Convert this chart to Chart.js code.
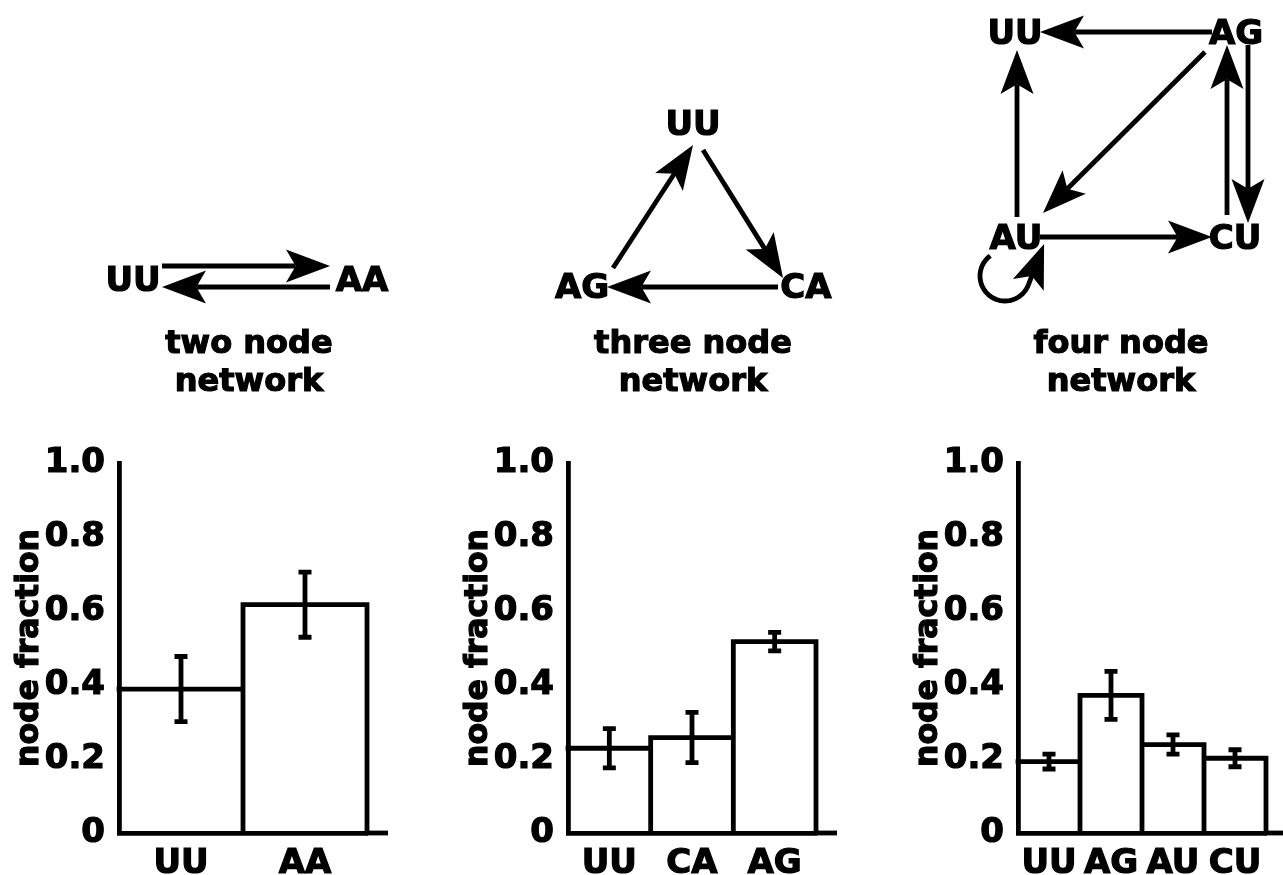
<!DOCTYPE html>
<html>
<head>
<meta charset="utf-8">
<script src="https://cdn.jsdelivr.net/npm/chart.js@4/dist/chart.umd.min.js"></script>
<style>
  html, body { margin: 0; padding: 0; background: #fff; overflow: hidden; width: 1283px; height: 875px; }
  #stage { position: absolute; left: 0; top: 0; width: 1283px; height: 875px; overflow: hidden; }
  #stage canvas { position: absolute; }
</style>
</head>
<body>
<div id="stage">
  <canvas id="networks"></canvas>
  <canvas id="twoNodeChart"></canvas>
  <canvas id="threeNodeChart"></canvas>
  <canvas id="fourNodeChart"></canvas>
</div>
<script>
// Data
const twoNodeCategories = ['UU', 'AA'];
const twoNodeValues = [0.389, 0.617];
const twoNodeErrors = [0.088, 0.088];

const threeNodeCategories = ['UU', 'CA', 'AG'];
const threeNodeValues = [0.229, 0.258, 0.517];
const threeNodeErrors = [0.053, 0.068, 0.025];

const fourNodeCategories = ['UU', 'AG', 'AU', 'CU'];
const fourNodeValues = [0.193, 0.372, 0.239, 0.202];
const fourNodeErrors = [0.020, 0.065, 0.026, 0.023];

const yTickLabels = ['0', '0.2', '0.4', '0.6', '0.8', '1.0'];
const yAxisTitle = 'node fraction';

// network topology (from -> to)
const twoNodeEdges = [['UU', 'AA'], ['AA', 'UU']];
const threeNodeEdges = [['AG', 'UU'], ['UU', 'CA'], ['CA', 'AG']];
const fourNodeEdges = [['AG', 'UU'], ['AU', 'UU'], ['AG', 'AU'], ['AU', 'CU'], ['CU', 'AG'], ['AG', 'CU'], ['AU', 'AU']];

const panelTitles = [['two node', 'network'], ['three node', 'network'], ['four node', 'network']];

// Layout and style
const STAGE_W = 1283;
const INK = '#000';
const LINE = 4.8;
const HEAD_LEN = 44;
const HEAD_W = 16.5;
const NOTCH = 0.78;
const TEXT_STROKE = 1.2;
const FONT = '"DejaVu Sans", Verdana, sans-serif';

Chart.defaults.font.family = FONT;
Chart.defaults.font.weight = 'bold';
Chart.defaults.color = INK;

// node placement of the three diagrams, in figure pixels
const networkLayouts = [
  {
    names: twoNodeCategories, edges: twoNodeEdges, titleX: 249,
    pos: { UU: [133, 279], AA: [362, 279] },
    anchors: {
      'UU>AA': [[29, -13], [-32, -13]],
      'AA>UU': [[-32, 8], [29, 8]]
    }
  },
  {
    names: threeNodeCategories, edges: threeNodeEdges, titleX: 693,
    pos: { UU: [693, 123], CA: [806, 286], AG: [582, 286] },
    anchors: {
      'AG>UU': [[31, -18], [0, 22]],
      'UU>CA': [[10, 27], [-23, -8]],
      'CA>AG': [[-28, 1], [25, 1]]
    }
  },
  {
    names: fourNodeCategories, edges: fourNodeEdges, titleX: 1121,
    pos: { UU: [1015, 32], AG: [1236, 32], AU: [1016, 237], CU: [1235, 237] },
    anchors: {
      'AG>UU': [[-24, 0], [25, 0]],
      'AU>UU': [[1, -20], [2, 18]],
      'AG>AU': [[-31, 20], [27, -24]],
      'AU>CU': [[24, 0], [-23, 0]],
      'CU>AG': [[-8, -22], [-9, 13]],
      'AG>CU': [[12, 13], [13, -14]],
      'AU>AU': { center: [-11, 39], r: 25, from: 234, to: 21 }
    }
  }
];

// heavy text: fill plus a thin outline
function boldText(ctx, text, x, y) {
    ctx.strokeText(text, x, y);
    ctx.fillText(text, x, y);
}

// Draw an arrow along a polyline; last point is the tip
function drawArrow(ctx, pt, pts) {
    const n = pts.length;
    const [tx, ty] = pts[n - 1];
    const [ax, ay] = pts[n - 2];
    const d = Math.hypot(tx - ax, ty - ay);
    const ux = (tx - ax) / d, uy = (ty - ay) / d;
    const nx = -uy, ny = ux;
    const bx = tx - ux * HEAD_LEN, by = ty - uy * HEAD_LEN;
    const notch = [tx - ux * HEAD_LEN * NOTCH, ty - uy * HEAD_LEN * NOTCH];

    ctx.lineWidth = LINE;
    ctx.beginPath();
    pts.slice(0, -1).forEach((p, i) => {
        const [X, Y] = pt(p);
        if (i === 0) ctx.moveTo(X, Y); else ctx.lineTo(X, Y);
    });
    ctx.lineTo(...pt(notch));
    ctx.stroke();

    ctx.beginPath();
    ctx.moveTo(...pt([tx, ty]));
    ctx.lineTo(...pt([bx + nx * HEAD_W, by + ny * HEAD_W]));
    ctx.lineTo(...pt(notch));
    ctx.lineTo(...pt([bx - nx * HEAD_W, by - ny * HEAD_W]));
    ctx.closePath();
    ctx.fill();
}

const networkDrawing = {
    id: 'networkDrawing',
    afterDatasetsDraw(chart) {
        const { ctx } = chart;
        const xs = chart.scales.x, ys = chart.scales.y;
        const pt = ([x, y]) => [xs.getPixelForValue(x), ys.getPixelForValue(y)];

        ctx.save();
        ctx.strokeStyle = INK;
        ctx.fillStyle = INK;
        ctx.lineCap = 'butt';
        ctx.lineJoin = 'round';

        networkLayouts.forEach((net, k) => {
            const meta = chart.getDatasetMeta(k);
            const where = {};
            chart.data.datasets[k].data.forEach(d => { where[d.name] = [d.x, d.y]; });

            net.edges.forEach(([a, b]) => {
                const spec = net.anchors[a + '>' + b];
                if (a === b) {
                    // self loop, sampled as a polyline
                    const c = [where[a][0] + spec.center[0], where[a][1] + spec.center[1]];
                    const pts = [];
                    for (let t = 0; t <= 40; t++) {
                        const ang = (spec.from + (spec.to - spec.from) * t / 40) * Math.PI / 180;
                        pts.push([c[0] + spec.r * Math.cos(ang), c[1] + spec.r * Math.sin(ang)]);
                    }
                    const end = spec.to * Math.PI / 180;
                    const last = pts[pts.length - 1];
                    pts.push([last[0] + HEAD_LEN * Math.sin(end), last[1] - HEAD_LEN * Math.cos(end)]);
                    drawArrow(ctx, pt, pts);
                } else {
                    const s = [where[a][0] + spec[0][0], where[a][1] + spec[0][1]];
                    const t = [where[b][0] + spec[1][0], where[b][1] + spec[1][1]];
                    drawArrow(ctx, pt, [s, t]);
                }
            });

            // node names
            ctx.lineWidth = TEXT_STROKE;
            ctx.lineJoin = 'miter';
            ctx.font = 'bold 34px ' + FONT;
            ctx.textAlign = 'center';
            ctx.textBaseline = 'alphabetic';
            meta.data.forEach((el, i) => {
                boldText(ctx, chart.data.datasets[k].data[i].name, el.x, el.y + 12);
            });

            // panel title
            const tx = xs.getPixelForValue(net.titleX);
            ctx.font = 'bold 32px ' + FONT;
            boldText(ctx, panelTitles[k][0], tx, ys.getPixelForValue(353));
            boldText(ctx, panelTitles[k][1], tx, ys.getPixelForValue(391));
            ctx.lineJoin = 'round';
        });
        ctx.restore();
    }
};

const netCanvas = document.getElementById('networks');
netCanvas.width = STAGE_W;
netCanvas.height = 420;
netCanvas.style.left = '0px';
netCanvas.style.top = '0px';
new Chart(netCanvas, {
    type: 'scatter',
    data: {
        datasets: networkLayouts.map(net => ({
            data: net.names.map(n => ({ x: net.pos[n][0], y: net.pos[n][1], name: n })),
            pointRadius: 0
        }))
    },
    options: {
        responsive: false,
        animation: false,
        events: [],
        layout: { padding: 0 },
        plugins: { legend: { display: false }, tooltip: { enabled: false } },
        scales: {
            x: { type: 'linear', display: false, min: 0, max: STAGE_W },
            y: { type: 'linear', display: false, min: 0, max: 420, reverse: true }
        }
    },
    plugins: [networkDrawing]
});

// Bar outlines: one line per shared edge, drawn up to the taller neighbour
const barOutline = {
    id: 'barOutline',
    afterDatasetsDraw(chart) {
        const { ctx } = chart;
        const bars = chart.getDatasetMeta(0).data;
        const h = LINE / 2;
        ctx.save();
        ctx.strokeStyle = INK;
        ctx.lineWidth = LINE;
        ctx.lineCap = 'butt';
        ctx.beginPath();
        bars.forEach((bar, i) => {
            const left = bar.x - bar.width / 2, right = bar.x + bar.width / 2;
            ctx.moveTo(left - h, bar.y);
            ctx.lineTo(right + h, bar.y);
            if (i > 0) {
                ctx.moveTo(left, bar.base);
                ctx.lineTo(left, Math.min(bar.y, bars[i - 1].y) - h);
            }
            if (i === bars.length - 1) {
                ctx.moveTo(right, bar.base);
                ctx.lineTo(right, bar.y - h);
            }
        });
        ctx.stroke();
        ctx.restore();
    }
};

// Error bars on top of the bars
const errorBars = {
    id: 'errorBars',
    afterDatasetsDraw(chart) {
        const { ctx } = chart;
        const ys = chart.scales.y;
        const ds = chart.data.datasets[0];
        const cap = 6.5;
        ctx.save();
        ctx.strokeStyle = INK;
        ctx.lineCap = 'butt';
        ctx.lineWidth = LINE;
        chart.getDatasetMeta(0).data.forEach((bar, i) => {
            const hi = ys.getPixelForValue(ds.data[i] + ds.errors[i]);
            const lo = ys.getPixelForValue(ds.data[i] - ds.errors[i]);
            ctx.beginPath();
            ctx.moveTo(bar.x, hi);
            ctx.lineTo(bar.x, lo);
            ctx.moveTo(bar.x - cap, hi); ctx.lineTo(bar.x + cap, hi);
            ctx.moveTo(bar.x - cap, lo); ctx.lineTo(bar.x + cap, lo);
            ctx.stroke();
        });
        ctx.restore();
    }
};

// x axis line runs a bit past the last bar; y title in heavy type
const axisExtras = {
    id: 'axisExtras',
    afterDraw(chart) {
        const { ctx, chartArea } = chart;
        const ys = chart.scales.y;
        ctx.save();
        ctx.strokeStyle = INK;
        ctx.fillStyle = INK;
        ctx.lineWidth = LINE;
        ctx.beginPath();
        ctx.moveTo(chartArea.right - 1, chartArea.bottom);
        ctx.lineTo(chartArea.right + 21, chartArea.bottom);
        ctx.stroke();

        ctx.translate(30, (ys.top + ys.bottom) / 2);
        ctx.rotate(-Math.PI / 2);
        ctx.font = 'bold 31.5px ' + FONT;
        ctx.textAlign = 'center';
        ctx.textBaseline = 'middle';
        ctx.lineWidth = TEXT_STROKE;
        boldText(ctx, yAxisTitle, 0, 0);
        ctx.restore();
    }
};

const BAR_W = 400;
function makeBarChart(id, leftPx, categories, values, errors) {
    const canvas = document.getElementById(id);
    canvas.width = BAR_W;
    canvas.height = 435;
    canvas.style.left = leftPx + 'px';
    canvas.style.top = '440px';
    return new Chart(canvas, {
        type: 'bar',
        data: {
            labels: categories,
            datasets: [{
                data: values,
                errors: errors,
                backgroundColor: '#fff',
                borderWidth: 0,
                categoryPercentage: 1,
                barPercentage: 1
            }]
        },
        options: {
            responsive: false,
            animation: false,
            events: [],
            layout: { padding: { left: 0, top: 23, right: BAR_W - 367, bottom: 0 } },
            plugins: { legend: { display: false }, tooltip: { enabled: false } },
            scales: {
                x: {
                    grid: { display: false, drawTicks: false },
                    border: { display: true, color: INK, width: LINE, z: 1 },
                    ticks: {
                        color: INK,
                        font: { size: 34, weight: 'bold' },
                        padding: 11,
                        maxRotation: 0,
                        autoSkip: false,
                        textStrokeColor: INK,
                        textStrokeWidth: TEXT_STROKE
                    },
                    afterFit: s => {
                        s.height = 42;
                        s.paddingLeft = 0;
                        s.paddingRight = 0;
                    }
                },
                y: {
                    min: 0,
                    max: 1,
                    grid: { display: false, drawTicks: false },
                    border: { display: true, color: INK, width: LINE, z: 1 },
                    ticks: {
                        stepSize: 0.2,
                        color: INK,
                        font: { size: 34, weight: 'bold' },
                        padding: 14,
                        textStrokeColor: INK,
                        textStrokeWidth: TEXT_STROKE,
                        callback: (v, i) => yTickLabels[i]
                    },
                    afterFit: s => {
                        s.width = 119;
                        s.paddingTop = 0;
                        s.paddingBottom = 0;
                    }
                }
            }
        },
        plugins: [barOutline, errorBars, axisExtras]
    });
}

makeBarChart('twoNodeChart', 0, twoNodeCategories, twoNodeValues, twoNodeErrors);
makeBarChart('threeNodeChart', 449, threeNodeCategories, threeNodeValues, threeNodeErrors);
makeBarChart('fourNodeChart', 899, fourNodeCategories, fourNodeValues, fourNodeErrors);
</script>
</body>
</html>
